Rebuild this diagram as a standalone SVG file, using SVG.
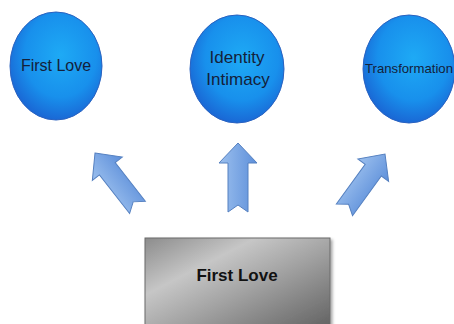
<svg xmlns="http://www.w3.org/2000/svg" width="454" height="324" viewBox="0 0 454 324">
<style>
.lbl{font-family:"Liberation Sans",Arial,sans-serif;fill:#14213a;text-anchor:middle}
.arrow{fill:url(#ag);stroke:#5580c0;stroke-width:1}
</style>
<defs>
<radialGradient id="eg" cx="0.55" cy="0.4" r="0.65">
<stop offset="0" stop-color="#1eaaf5"/>
<stop offset="0.6" stop-color="#1890ec"/>
<stop offset="1" stop-color="#1a5fd0"/>
</radialGradient>
<linearGradient id="ag" x1="0" y1="0" x2="1" y2="0">
<stop offset="0" stop-color="#9cc0ee"/>
<stop offset="1" stop-color="#5d8fda"/>
</linearGradient>
<linearGradient id="rg" x1="0" y1="0" x2="1" y2="1">
<stop offset="0" stop-color="#8c8c8c"/>
<stop offset="0.3" stop-color="#c6c6c6"/>
<stop offset="0.55" stop-color="#a2a2a2"/>
<stop offset="1" stop-color="#5e5e5e"/>
</linearGradient>
<filter id="sh" x="-10%" y="-10%" width="130%" height="130%">
<feDropShadow dx="2" dy="2" stdDeviation="1.5" flood-color="#000" flood-opacity="0.35"/>
</filter>
<path id="arr" d="M0,0 L19,20 L10,20 L10,69 L0,62 L-10,69 L-10,20 L-19,20 Z"/>
</defs>
<g id="node-first-love-circle">
<ellipse cx="56" cy="66" rx="46" ry="54" fill="url(#eg)" stroke="#2a62c0" stroke-width="1"/>
<text class="lbl" x="56" y="71" font-size="16">First Love</text>
</g>
<g id="node-identity-intimacy">
<ellipse cx="237" cy="69" rx="47" ry="54" fill="url(#eg)" stroke="#2a62c0" stroke-width="1"/>
<text class="lbl" x="237" y="63" font-size="17">Identity</text>
<text class="lbl" x="238" y="85" font-size="17">Intimacy</text>
</g>
<g id="node-transformation">
<ellipse cx="409" cy="69" rx="46" ry="54" fill="url(#eg)" stroke="#2a62c0" stroke-width="1"/>
<text class="lbl" x="409" y="73" font-size="13" textLength="88" lengthAdjust="spacingAndGlyphs">Transformation</text>
</g>
<g id="connectors">
<use href="#arr" class="arrow" transform="translate(95,153) rotate(-38)"/>
<use href="#arr" class="arrow" transform="translate(238,143)"/>
<use href="#arr" class="arrow" transform="translate(385,154) rotate(36)"/>
</g>
<g id="node-first-love-box">
<rect x="145" y="238" width="185" height="95" fill="url(#rg)" stroke="#6a6a6a" stroke-width="1" filter="url(#sh)"/>
<text x="237" y="281" font-family="'Liberation Sans',Arial,sans-serif" font-weight="bold" font-size="17" fill="#111" text-anchor="middle">First Love</text>
</g>
</svg>
